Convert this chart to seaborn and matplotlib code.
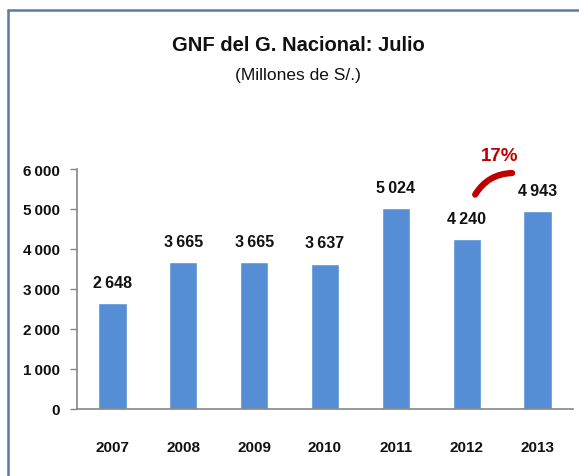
import matplotlib
matplotlib.use('Agg')
import matplotlib.pyplot as plt
import seaborn as sns
from matplotlib.lines import Line2D
from matplotlib.patches import FancyArrowPatch

sns.set_style('white')
plt.rcParams['font.family'] = ['Liberation Sans', 'DejaVu Sans']

years = ['2007', '2008', '2009', '2010', '2011', '2012', '2013']
gnf = [2648, 3665, 3665, 3637, 5024, 4240, 4943]
growth_label = '17%'
yticks = [0, 1000, 2000, 3000, 4000, 5000, 6000]


def fmt(v):
    return f'{v:,}'.replace(',', '\u2009')


fig = plt.figure(figsize = (5.79, 4.77), dpi = 100)
ax = fig.add_axes([0.133, 0.1405, 0.8566, 0.5031])

sns.barplot(x = years, y = gnf, color = '#558ED5', width = 0.4, saturation = 1, ax = ax)

for i, v in enumerate(gnf):
    ax.text(i, v + 330, fmt(v), ha = 'center', va = 'bottom', fontsize = 11.5, fontweight = 'bold', color = '#111111')

ax.set_ylim(0, 6000)
ax.set_xlim(-0.5, len(years) - 0.5)
ax.set_yticks(yticks)
ax.set_yticklabels([fmt(t) for t in yticks], fontsize = 11, fontweight = 'bold', color = '#111111')
ax.set_xticks(range(len(years)))
ax.set_xticklabels(years, fontsize = 11, fontweight = 'bold', color = '#111111')
ax.set_xticks([i - 0.5 for i in range(len(years) + 1)], minor = True)
ax.tick_params(axis = 'x', which = 'major', length = 0, pad = 22)
ax.tick_params(axis = 'x', which = 'minor', length = 5, color = '#868686', width = 1, direction = 'out')
ax.tick_params(axis = 'y', length = 5, color = '#868686', width = 1, direction = 'out', pad = 7, left = True)
for s in ['top', 'right']:
    ax.spines[s].set_visible(False)
for s in ['left', 'bottom']:
    ax.spines[s].set_color('#868686')
    ax.spines[s].set_linewidth(1.2)

# growth arc and label
arc = FancyArrowPatch((5.1, 5300), (5.68, 5900), connectionstyle = 'arc3,rad=-0.3',
                      arrowstyle = '-', color = '#C00000', linewidth = 4.5, capstyle = 'round', clip_on = False)
ax.add_patch(arc)
ax.text(5.47, 6330, growth_label, ha = 'center', va = 'center', fontsize = 13.5, fontweight = 'bold',
        color = '#C00000', clip_on = False)

fig.text(0.515, 0.905, 'GNF del G. Nacional: Julio', ha = 'center', va = 'center', fontsize = 14.5, fontweight = 'bold', color = '#111111')
fig.text(0.515, 0.842, '(Millones de S/.)', ha = 'center', va = 'center', fontsize = 12.5, color = '#111111')

# frame lines
fig.add_artist(Line2D([8 / 579, 1], [1 - 11 / 477, 1 - 11 / 477], color = '#5A78A8', linewidth = 1.8))
fig.add_artist(Line2D([8 / 579, 8 / 579], [0, 1 - 11 / 477], color = '#5A78A8', linewidth = 1.8))

fig.savefig('out.png', dpi = 100)
